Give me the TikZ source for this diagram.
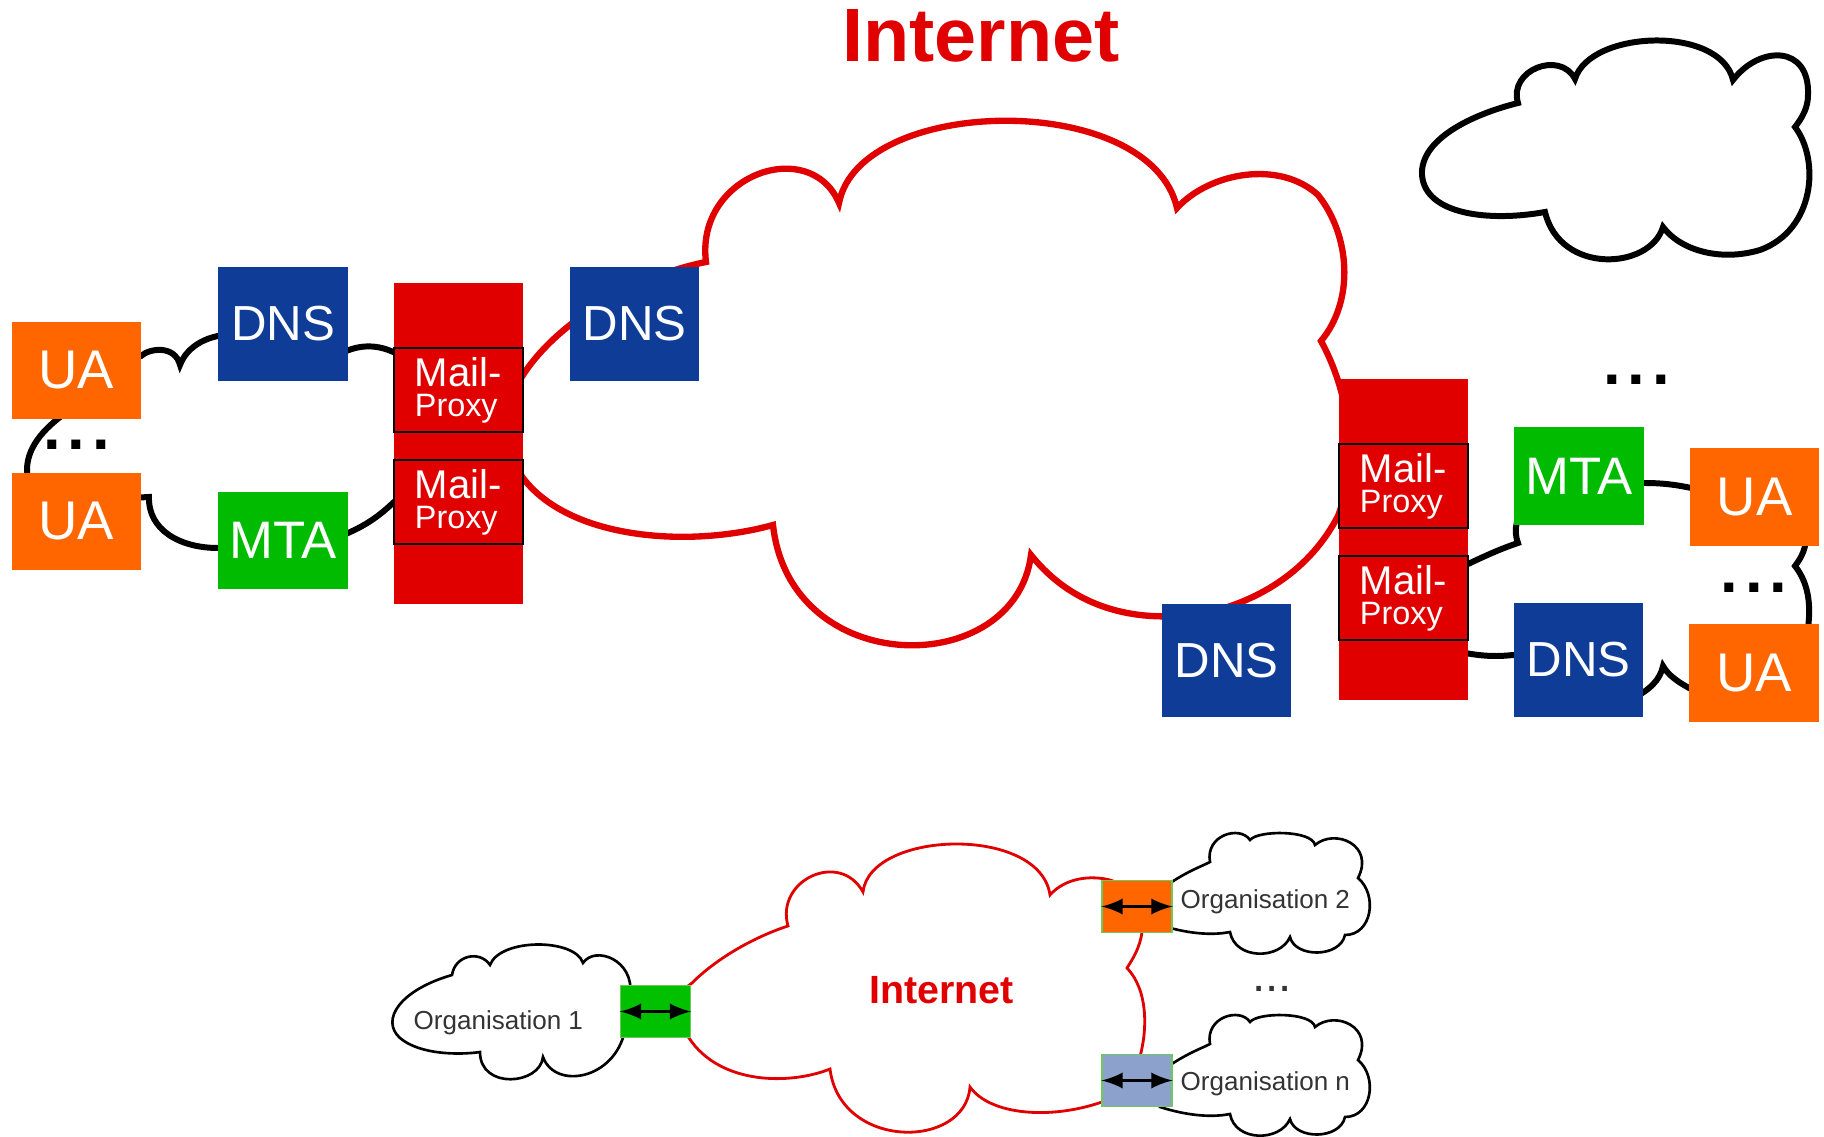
\documentclass[tikz,border=0pt]{standalone}
\usepackage{fontspec}
\setmainfont{Liberation Sans}
\usepackage{xcolor}
\usepackage{tikz}
\usetikzlibrary{shapes,arrows,positioning}
\definecolor{UAOrange}{RGB}{255, 102, 0}
\definecolor{DNSBlue}{RGB}{14, 60, 150}
\definecolor{MTAGreen}{RGB}{0, 187, 0}
\definecolor{ProxyRed}{RGB}{224, 0, 0}
\definecolor{GateGreen}{RGB}{0, 192, 0}
\definecolor{GateBlue}{RGB}{140, 162, 204}
\definecolor{GateEdge}{RGB}{110, 200, 90}
\definecolor{OrgGrey}{RGB}{51, 51, 51}
\tikzstyle{ua} = [rectangle, minimum width=1.29cm, minimum height=0.97cm, inner sep=0pt, fill=UAOrange, text=white, font=\fontsize{15.5}{18}\selectfont]
\tikzstyle{dns} = [rectangle, minimum width=1.29cm, minimum height=1.13cm, inner sep=0pt, fill=DNSBlue, text=white, font=\fontsize{14}{16}\selectfont]
\tikzstyle{mta} = [rectangle, minimum width=1.29cm, minimum height=0.97cm, inner sep=0pt, fill=MTAGreen, text=white, font=\fontsize{15}{18}\selectfont]
\tikzstyle{proxycol} = [rectangle, minimum width=1.29cm, minimum height=3.21cm, inner sep=0pt, fill=ProxyRed]
\tikzstyle{proxy} = [rectangle, minimum width=1.29cm, minimum height=0.84cm, inner xsep=0.21cm, inner ysep=0pt, text width=0.87cm, align=left, draw=black, line width=0.5pt, fill=ProxyRed, text=white, font=\fontsize{9.2}{8.6}\selectfont]
\tikzstyle{gate} = [rectangle, minimum width=0.70cm, minimum height=0.52cm, inner sep=0pt, draw=GateEdge, line width=0.4pt]
\tikzstyle{orgcloud} = [draw=black, line width=1.7pt]
\tikzstyle{netcloud} = [draw=ProxyRed, line width=1.8pt]
\tikzstyle{smallcloud} = [draw=black, line width=0.75pt]
\tikzstyle{smallnet} = [draw=ProxyRed, line width=0.8pt]
\tikzstyle{dots} = [inner sep=0pt, font=\fontsize{18}{18}\selectfont\bfseries]
\tikzstyle{orgtext} = [anchor=base west, inner sep=0pt, text=OrgGrey, font=\fontsize{7.4}{8}\selectfont]
\tikzstyle{arrow} = [line width=1.1pt, <->, >=latex]

\begin{document}
\begin{tikzpicture}[x=0.01cm, y=-0.01cm]
\fill[white] (0,0) rectangle (1824,1137);
\useasboundingbox (0,0) rectangle (1824,1137);

% Nuage Internet
\draw [netcloud] (773,525)
  .. controls (690,548) and (570,540) .. (523,478)
  .. controls (500,445) and (500,410) .. (523,375)
  .. controls (560,318) and (640,275) .. (706,262)
  .. controls (695,175) and (810,135) .. (839,203)
  .. controls (860,95) and (1150,90) .. (1177,208)
  .. controls (1210,172) and (1280,160) .. (1318,195)
  .. controls (1350,235) and (1355,300) .. (1321,341)
  .. controls (1348,390) and (1360,460) .. (1338,516)
  .. controls (1310,570) and (1260,600) .. (1210,612)
  .. controls (1140,625) and (1075,610) .. (1031,555)
  .. controls (1015,680) and (790,680) .. (773,525) -- cycle;

% Organisation gauche
\draw [orgcloud] (180,365)
  .. controls (195,325) and (270,320) .. (315,375)
  .. controls (345,340) and (385,335) .. (420,372)
  .. controls (440,420) and (430,470) .. (394,502)
  .. controls (380,515) and (365,528) .. (330,540)
  .. controls (300,560) and (250,555) .. (218,548)
  .. controls (180,548) and (148,530) .. (149,497)
  -- (130,498)
  .. controls (60,498) and (27,495) .. (27,470)
  .. controls (27,450) and (40,430) .. (70,410)
  .. controls (100,370) and (120,357) .. (141,356)
  .. controls (150,348) and (175,345) .. (180,365) -- cycle;

% Organisation droite
\draw [orgcloud] (1518,543)
  .. controls (1513,530) and (1516,515) .. (1530,500)
  .. controls (1560,480) and (1600,482) .. (1643,483)
  .. controls (1660,483) and (1675,484) .. (1700,490)
  .. controls (1760,500) and (1810,520) .. (1805,546)
  .. controls (1803,555) and (1798,562) .. (1795,566)
  .. controls (1810,585) and (1812,610) .. (1806,640)
  .. controls (1780,700) and (1720,705) .. (1689,688)
  .. controls (1678,682) and (1668,675) .. (1663,666)
  .. controls (1660,680) and (1650,690) .. (1630,700)
  .. controls (1590,690) and (1550,655) .. (1513,655)
  .. controls (1495,657) and (1480,656) .. (1460,652)
  .. controls (1420,620) and (1440,575) .. (1468,564)
  .. controls (1485,556) and (1500,549) .. (1518,543) -- cycle;

% Autre organisation
\draw [orgcloud] (1518,103)
  .. controls (1508,70) and (1560,50) .. (1575,79)
  .. controls (1590,30) and (1720,25) .. (1733,80)
  .. controls (1760,45) and (1810,45) .. (1808,95)
  .. controls (1808,108) and (1802,118) .. (1795,127)
  .. controls (1820,160) and (1815,230) .. (1760,250)
  .. controls (1720,262) and (1680,250) .. (1663,227)
  .. controls (1650,270) and (1560,275) .. (1545,212)
  .. controls (1490,222) and (1425,215) .. (1422,175)
  .. controls (1420,140) and (1470,115) .. (1518,103) -- cycle;

% Titre
\node (title) [text=ProxyRed, font=\fontsize{21.5}{24}\selectfont\bfseries] at (981,35.5) {Internet};

% Gauche
\node (uaL1) [ua] at (76.5,370.5) {UA};
\node (uaL2) [ua] at (76.5,521.5) {UA};
\node (dnsL) [dns] at (283,324) {DNS};
\node (mtaL) [mta] at (283,540.5) {MTA};
\node (colL) [proxycol] at (458.5,443.5) {};
\node (proxyL1) [proxy] at (458.5,390) {{\fontsize{11.4}{8.6}\selectfont Mail-}\\Proxy};
\node (proxyL2) [proxy] at (458.5,502) {{\fontsize{11.4}{8.6}\selectfont Mail-}\\Proxy};
\node (dotsL) [dots] at (76.5,444.5) {.\hspace{1.95pt}.\hspace{1.95pt}.};

% Centre
\node (dnsC) [dns] at (634.5,324) {DNS};
\node (dnsB) [dns] at (1226.5,660.5) {DNS};

% Droite
\node (colR) [proxycol] at (1403.5,539.5) {};
\node (proxyR1) [proxy] at (1403.5,486) {{\fontsize{11.4}{8.6}\selectfont Mail-}\\Proxy};
\node (proxyR2) [proxy] at (1403.5,598) {{\fontsize{11.4}{8.6}\selectfont Mail-}\\Proxy};
\node (mtaR) [mta] at (1579,476) {MTA};
\node (dnsR) [dns] at (1578.5,660) {DNS};
\node (uaR1) [ua] at (1754.5,497) {UA};
\node (uaR2) [ua] at (1754,673) {UA};
\node (dotsR1) [dots] at (1636.5,380) {.\hspace{1.95pt}.\hspace{1.95pt}.};
\node (dotsR2) [dots] at (1754,587.5) {.\hspace{1.95pt}.\hspace{1.95pt}.};

% Petit schema
\draw [smallnet] (692,983)
  .. controls (720,955) and (760,935) .. (788,926)
  .. controls (775,880) and (840,850) .. (863,892)
  .. controls (870,830) and (1040,825) .. (1050,895)
  .. controls (1065,878) and (1090,875) .. (1110,880)
  .. controls (1140,890) and (1145,915) .. (1142,932)
  .. controls (1140,948) and (1132,960) .. (1127,968)
  .. controls (1148,990) and (1148,1030) .. (1139,1060)
  .. controls (1130,1090) and (1115,1098) .. (1102,1102)
  .. controls (1050,1120) and (990,1115) .. (970,1087)
  .. controls (965,1150) and (840,1150) .. (830,1069)
  .. controls (790,1085) and (720,1085) .. (689,1038)
  .. controls (670,1010) and (675,995) .. (692,983) -- cycle;
\draw [smallcloud] (630,995)
  .. controls (635,960) and (595,945) .. (583,963)
  .. controls (575,938) and (500,938) .. (490,965)
  .. controls (480,950) and (455,955) .. (452,975)
  .. controls (400,990) and (380,1020) .. (400,1038)
  .. controls (420,1055) and (460,1055) .. (480,1052)
  .. controls (480,1090) and (540,1085) .. (543,1057)
  .. controls (555,1090) and (615,1080) .. (625,1030) -- cycle;
\foreach \dy in {0,182}
  \draw [smallcloud, shift={(0,\dy)}] (1160,890)
    .. controls (1185,872) and (1198,868) .. (1210,862)
    .. controls (1205,835) and (1240,825) .. (1250,840)
    .. controls (1258,830) and (1312,830) .. (1315,845)
    .. controls (1335,828) and (1375,845) .. (1358,878)
    .. controls (1378,895) and (1372,935) .. (1345,935)
    .. controls (1340,958) and (1295,958) .. (1290,937)
    .. controls (1280,960) and (1235,960) .. (1230,932)
    .. controls (1210,936) and (1185,933) .. (1160,925) -- cycle;

\node (netlabel) [text=ProxyRed, font=\fontsize{11.2}{13}\selectfont\bfseries] at (941.5,990.5) {Internet};
\node (org1) [orgtext] at (413,1029) {Organisation 1};
\node (org2) [orgtext] at (1180,908) {Organisation 2};
\node (orgN) [orgtext] at (1180,1090) {Organisation n};
\node (dotsB) [inner sep=0pt, text=OrgGrey, font=\fontsize{13.5}{14}\selectfont] at (1272,989) {...};

\node (gate1) [gate, fill=GateGreen] at (655.5,1011.5) {};
\node (gate2) [gate, fill=UAOrange] at (1137,906.5) {};
\node (gateN) [gate, fill=GateBlue] at (1137,1080.5) {};

% Fleches
\draw [arrow] (gate1.west) -- (gate1.east);
\draw [arrow] (gate2.west) -- (gate2.east);
\draw [arrow] (gateN.west) -- (gateN.east);

\end{tikzpicture}
\end{document}
